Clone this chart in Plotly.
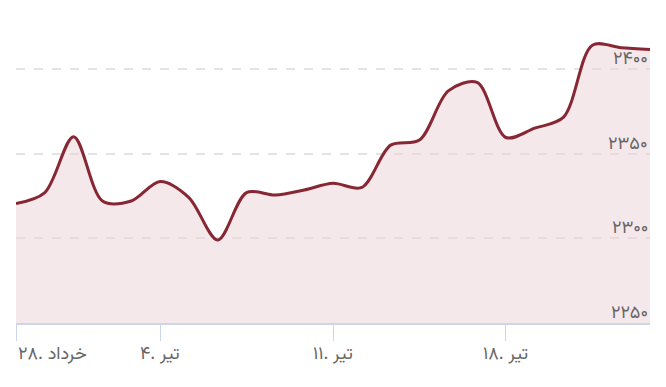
import plotly.graph_objects as go

# Data (trading-day index -> price)
day_index = list(range(23))
prices = [2320.5, 2327, 2360, 2322, 2322, 2333.5, 2324, 2299, 2327, 2325.5,
          2328.5, 2332.5, 2330, 2355, 2358, 2387, 2392, 2359.5, 2365, 2371.5,
          2414, 2412.5, 2411.5]

x_tick_index = [0, 5, 11, 17]
x_tick_labels = ["۲۸. خرداد", "۴. تیر", "۱۱. تیر", "۱۸. تیر"]

y_tick_values = [2250, 2300, 2350, 2400]
y_tick_labels = ["۲۲۵۰", "۲۳۰۰", "۲۳۵۰", "۲۴۰۰"]

FONT = "Vazirmatn, DejaVu Sans, Noto Sans"
LABEL_FONT = dict(family=FONT, size=18, color="#666666")

fig = go.Figure()
fig.add_trace(go.Scatter(
    x=day_index, y=prices,
    mode="lines",
    line=dict(color="#862733", width=3, shape="spline", smoothing=0.9),
    fill="tozeroy",
    fillcolor="rgba(236,214,219,0.55)",
    hoverinfo="skip",
))

for i, (xv, txt) in enumerate(zip(x_tick_index, x_tick_labels)):
    fig.add_annotation(
        x=xv, xref="x", y=0, yref="paper",
        text=txt, showarrow=False,
        xanchor="left" if i == 0 else "center",
        yanchor="top", yshift=-16,
        font=LABEL_FONT,
    )

for yv, txt in zip(y_tick_values, y_tick_labels):
    fig.add_annotation(
        x=1, xref="paper", y=yv, yref="y",
        text=txt, showarrow=False,
        xanchor="right", yanchor="bottom", yshift=-7,
        font=LABEL_FONT,
    )

fig.update_layout(
    width=666, height=387,
    margin=dict(l=16, r=16, t=35, b=64),
    paper_bgcolor="white", plot_bgcolor="white",
    showlegend=False,
    xaxis=dict(
        range=[0, 22], tickvals=x_tick_index, showticklabels=False,
        ticks="outside", ticklen=16, tickcolor="#ccd6eb", tickwidth=1,
        showline=True, linecolor="#ccd6eb", linewidth=1.5,
        showgrid=False, zeroline=False, fixedrange=True,
    ),
    yaxis=dict(
        range=[2250, 2420], side="right",
        tickvals=y_tick_values, showticklabels=False,
        showgrid=True, gridcolor="#e3e3e3", gridwidth=1.5, griddash="dash",
        zeroline=False, showline=False, ticks="", fixedrange=True,
    ),
)

fig.write_html(
    "out.html",
    config={"displayModeBar": False},
    post_script="document.body.style.margin='0';document.body.style.padding='0';",
)
